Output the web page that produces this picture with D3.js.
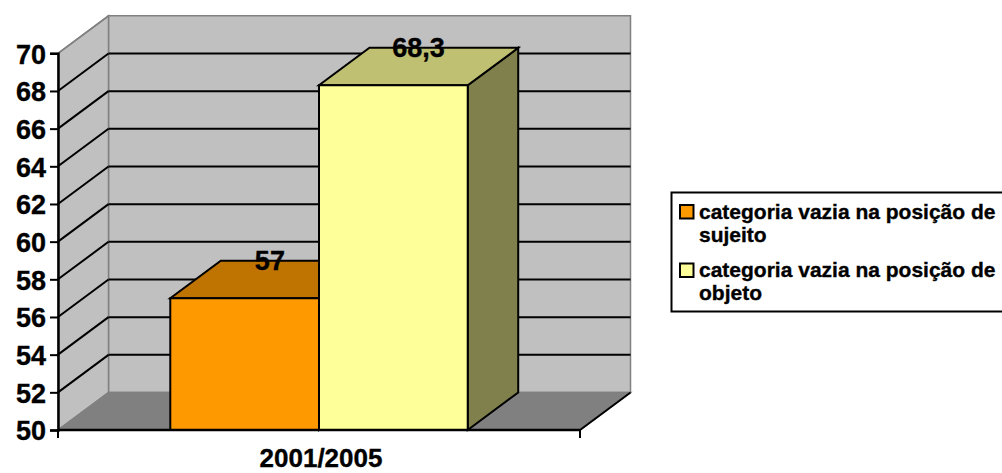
<!DOCTYPE html>
<html>
<head>
<meta charset="utf-8">
<script src="https://cdn.jsdelivr.net/npm/d3@7"></script>
<style>
  html, body { margin: 0; padding: 0; background: #ffffff; }
  svg { display: block; font-family: "Liberation Sans", Arial, sans-serif; font-weight: bold; }
  svg text { stroke: #000; stroke-width: 0.35px; }
</style>
</head>
<body>
<svg id="chart" width="1002" height="473"></svg>
<script>
// Chart data
const categories = ["2001/2005"];
const seriesNames = [
  ["categoria vazia na posição de", "sujeito"],
  ["categoria vazia na posição de", "objeto"]
];
const seriesValues = [57, 68.3];
const valueLabels = ["57", "68,3"];
const yTicks = [50, 52, 54, 56, 58, 60, 62, 64, 66, 68, 70];

// Colours: front face, top face, side face
const frontColors = ["#FF9900", "#FFFF99"];
const topColors = ["#BF7300", "#C0C073"];
const sideColors = ["#804C00", "#80804C"];

const svg = d3.select("#chart");

// Plot frame (front plane) and depth offset of the 3D box
const plot = { left: 58, right: 580, top: 53.3, bottom: 430 };
const depth = { dx: 50.5, dy: -37.5 };

const y = d3.scaleLinear().domain([50, 70]).range([plot.bottom, plot.top]);
const x = d3.scaleBand().domain(categories).range([plot.left, plot.right]).paddingInner(0).paddingOuter(0);
const xs = d3.scaleBand().domain(d3.range(seriesValues.length))
  .range([0, x.bandwidth()]).paddingOuter(0.755).paddingInner(0);

const pt = (px, py, z) => [px + z * depth.dx, py + z * depth.dy];
const poly = pts => "M" + pts.map(p => p.join(",")).join("L") + "Z";

const yMin = y.domain()[0], yMax = y.domain()[1];
const wallGray = "#808080";

// Back wall
svg.append("path")
  .attr("d", poly([pt(plot.left, y(yMin), 1), pt(plot.right, y(yMin), 1), pt(plot.right, y(yMax), 1), pt(plot.left, y(yMax), 1)]))
  .attr("fill", "#C0C0C0").attr("stroke", wallGray).attr("stroke-width", 1.5);

// Side wall
svg.append("path")
  .attr("d", poly([pt(plot.left, y(yMin), 0), pt(plot.left, y(yMin), 1), pt(plot.left, y(yMax), 1), pt(plot.left, y(yMax), 0)]))
  .attr("fill", "#C0C0C0").attr("stroke", wallGray).attr("stroke-width", 1.5);

// Floor
svg.append("path")
  .attr("d", poly([pt(plot.left, y(yMin), 0), pt(plot.right, y(yMin), 0), pt(plot.right, y(yMin), 1), pt(plot.left, y(yMin), 1)]))
  .attr("fill", "#808080").attr("stroke", wallGray).attr("stroke-width", 1.5);

// Floor right edge
svg.append("line")
  .attr("x1", plot.right).attr("y1", y(yMin))
  .attr("x2", pt(plot.right, y(yMin), 1)[0]).attr("y2", pt(plot.right, y(yMin), 1)[1])
  .attr("stroke", "#000").attr("stroke-width", 2);

// Gridlines: diagonal on the side wall, horizontal on the back wall
const gridTicks = yTicks.filter(v => v > yMin && v < yMax);
const grid = svg.append("g").attr("stroke", "#000").attr("stroke-width", 2).attr("fill", "none");
gridTicks.concat([yMax]).forEach(v => {
  const a = pt(plot.left, y(v), 0), b = pt(plot.left, y(v), 1);
  grid.append("line").attr("x1", a[0]).attr("y1", a[1]).attr("x2", b[0]).attr("y2", b[1])
    .attr("stroke", v === yMax ? wallGray : "#000").attr("stroke-width", v === yMax ? 1.5 : 2);
});
gridTicks.forEach(v => {
  const a = pt(plot.left, y(v), 1), b = pt(plot.right, y(v), 1);
  grid.append("line").attr("x1", a[0]).attr("y1", a[1]).attr("x2", b[0]).attr("y2", b[1]);
});

// Bars drawn as boxes (front, top, side)
const bars = svg.append("g").attr("stroke", "#000").attr("stroke-width", 2).attr("stroke-linejoin", "miter");
seriesValues.forEach((v, i) => {
  const x0 = x(categories[0]) + xs(i);
  const x1 = x0 + xs.bandwidth();
  const yt = y(v), yb = y(yMin);
  const g = bars.append("g");
  g.append("path").attr("d", poly([pt(x1, yb, 0), pt(x1, yb, 1), pt(x1, yt, 1), pt(x1, yt, 0)]))
    .attr("fill", sideColors[i]);
  g.append("path").attr("d", poly([pt(x0, yt, 0), pt(x1, yt, 0), pt(x1, yt, 1), pt(x0, yt, 1)]))
    .attr("fill", topColors[i]);
  g.append("path").attr("d", poly([pt(x0, yb, 0), pt(x1, yb, 0), pt(x1, yt, 0), pt(x0, yt, 0)]))
    .attr("fill", frontColors[i]);
});

// Value labels
seriesValues.forEach((v, i) => {
  const cx = x(categories[0]) + xs(i) + xs.bandwidth() / 2 + depth.dx / 2;
  const cy = y(v) + depth.dy / 2 - 9.5;
  svg.append("text").attr("x", cx).attr("y", cy)
    .attr("text-anchor", "middle").attr("font-size", 27).attr("fill", "#000")
    .text(valueLabels[i]);
});

// Value axis
const yAxis = svg.append("g").attr("transform", `translate(${plot.left},0)`)
  .call(d3.axisLeft(y).tickValues(yTicks).tickSize(8).tickPadding(4).tickFormat(d3.format("d")));
yAxis.select(".domain").attr("stroke", "#000").attr("stroke-width", 2.5);
yAxis.selectAll(".tick line").attr("stroke", "#000").attr("stroke-width", 2);
yAxis.selectAll(".tick text")
  .attr("font-family", "'Liberation Sans', Arial, sans-serif").attr("font-weight", "bold")
  .attr("font-size", 27).attr("fill", "#000").attr("dy", "0.36em");

// Category axis
const xAxisG = svg.append("g");
xAxisG.append("line").attr("x1", plot.left).attr("x2", plot.right)
  .attr("y1", plot.bottom).attr("y2", plot.bottom).attr("stroke", "#000").attr("stroke-width", 2.5);
[plot.left, plot.right].forEach(px => {
  xAxisG.append("line").attr("x1", px).attr("x2", px)
    .attr("y1", plot.bottom).attr("y2", plot.bottom + 8).attr("stroke", "#000").attr("stroke-width", 2);
});
xAxisG.selectAll("text.cat").data(categories).join("text").attr("class", "cat")
  .attr("x", d => x(d) + x.bandwidth() / 2 + 2).attr("y", 467)
  .attr("text-anchor", "middle").attr("font-size", 26).attr("fill", "#000")
  .text(d => d);

// Legend
const legend = svg.append("g");
legend.append("rect").attr("x", 671.5).attr("y", 192.5).attr("width", 345).attr("height", 119)
  .attr("fill", "#fff").attr("stroke", "#000").attr("stroke-width", 2);
const itemTops = [218.5, 277];
seriesNames.forEach((lines, i) => {
  const base = itemTops[i];
  legend.append("rect").attr("x", 680).attr("y", base - 13.5).attr("width", 13.5).attr("height", 13.5)
    .attr("fill", frontColors[i]).attr("stroke", "#000").attr("stroke-width", 2);
  const t = legend.append("text").attr("x", 699).attr("y", base).attr("font-size", 21).attr("fill", "#000");
  lines.forEach((ln, j) => {
    t.append("tspan").attr("x", 699).attr("y", base + j * 23.4).text(ln);
  });
});
</script>
</body>
</html>
